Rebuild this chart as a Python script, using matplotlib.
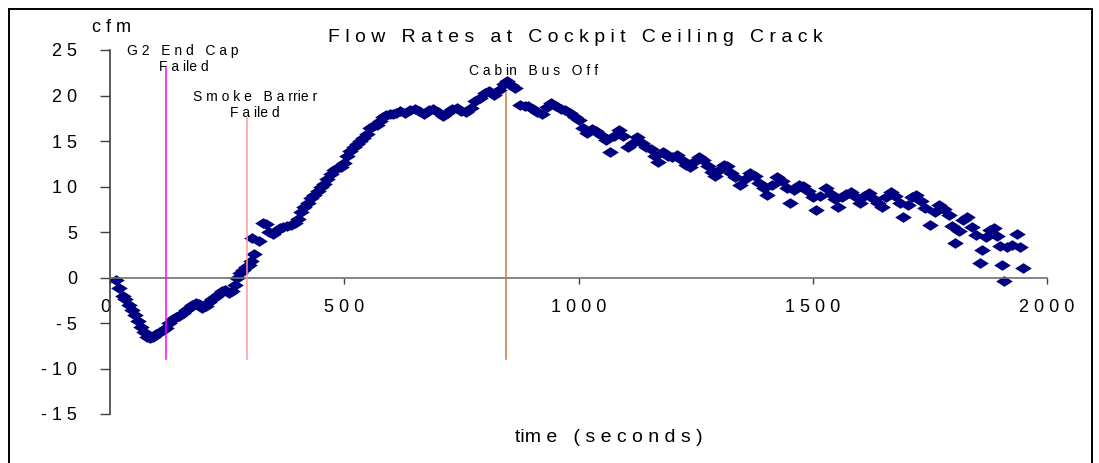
import matplotlib
matplotlib.use("Agg")
import matplotlib.pyplot as plt
from matplotlib.path import Path
from matplotlib.patches import Rectangle

plt.rcParams['font.family'] = ['Liberation Sans', 'DejaVu Sans']
plt.rcParams['axes.unicode_minus'] = False

# flow rate readings (time in s, flow in cfm)
time_s = [12, 20, 27, 33, 40, 47, 53, 60, 66, 72, 78, 85, 92, 99, 106, 113, 120, 127,
          134, 141, 148, 155, 162, 169, 176, 183, 190, 197, 204, 211, 218, 225, 232,
          239, 246, 253, 260, 266, 272, 278, 284, 290, 296, 302, 304, 308, 318, 326,
          333, 340, 347, 355, 362, 370, 378, 386, 394, 401, 408, 415, 422, 429, 436,
          443, 450, 457, 464, 471, 478, 485, 492, 499, 506, 513, 520, 527, 534, 541,
          548, 555, 562, 569, 576, 583, 590, 597, 604, 611, 620, 630, 640, 650, 660,
          670, 680, 690, 700, 710, 720, 730, 740, 750, 760, 770, 780, 790, 800, 810,
          820, 830, 840, 847, 855, 865, 875, 885, 893, 903, 912, 922, 932, 942, 952,
          962, 972, 982, 992, 1002, 1010, 1018, 1028, 1038, 1048, 1058, 1067, 1076,
          1086, 1096, 1106, 1116, 1125, 1135, 1145, 1155, 1163, 1170, 1180, 1190,
          1200, 1210, 1220, 1230, 1238, 1248, 1258, 1266, 1276, 1284, 1291, 1300,
          1310, 1318, 1326, 1335, 1345, 1355, 1366, 1376, 1386, 1395, 1402, 1412,
          1424, 1434, 1444, 1451, 1460, 1470, 1480, 1490, 1501, 1506, 1516, 1528,
          1540, 1548, 1554, 1562, 1572, 1582, 1592, 1600, 1610, 1620, 1630, 1640,
          1647, 1657, 1666, 1676, 1686, 1693, 1703, 1712, 1720, 1730, 1740, 1750,
          1760, 1770, 1780, 1790, 1797, 1804, 1812, 1820, 1830, 1840, 1848, 1856,
          1862, 1870, 1878, 1886, 1893, 1900, 1905, 1908, 1915, 1925, 1936, 1942, 1948]
flow_cfm = [-0.3, -1.1, -2.0, -2.4, -3.0, -3.6, -4.1, -4.8, -5.4, -6.0, -6.5, -6.7, -6.5,
            -6.2, -6.0, -5.8, -5.5, -5.0, -4.6, -4.3, -4.2, -3.9, -3.6, -3.3, -3.0, -2.8,
            -2.9, -3.3, -3.1, -2.7, -2.4, -2.1, -1.8, -1.5, -1.4, -1.7, -1.5, -0.8, -0.1,
            0.5, 0.8, 1.1, 1.4, 1.8, 4.3, 2.6, 4.0, 6.0, 5.9, 5.0, 4.8, 5.1, 5.4, 5.5,
            5.7, 5.8, 6.0, 6.4, 7.2, 7.7, 8.2, 8.7, 9.1, 9.5, 9.9, 10.3, 10.8, 11.4, 11.8,
            12.0, 12.1, 12.6, 13.3, 13.9, 14.3, 14.7, 15.0, 15.3, 15.8, 16.4, 16.7, 16.8,
            17.2, 17.6, 17.9, 18.0, 18.0, 18.1, 18.3, 18.1, 18.4, 18.5, 18.3, 18.0, 18.4,
            18.5, 18.2, 17.8, 18.1, 18.5, 18.6, 18.3, 18.2, 18.6, 19.4, 19.7, 20.3, 20.5,
            20.1, 20.6, 21.3, 21.6, 21.2, 20.8, 19.0, 18.8, 18.9, 18.5, 18.2, 18.0, 18.7,
            19.2, 18.8, 18.5, 18.4, 18.1, 17.6, 17.3, 16.4, 15.9, 16.3, 16.1, 15.7, 15.1,
            13.8, 15.5, 16.2, 15.6, 14.3, 14.8, 15.4, 14.8, 14.3, 14.1, 13.3, 12.7, 13.8,
            13.4, 13.2, 13.5, 12.9, 12.4, 12.1, 12.8, 13.2, 12.9, 12.2, 11.6, 11.1, 11.8,
            12.4, 12.2, 11.5, 11.0, 10.2, 10.8, 11.5, 11.1, 10.4, 9.8, 9.1, 10.2, 11.0,
            10.6, 9.8, 8.2, 9.6, 10.2, 10.1, 9.5, 8.8, 7.4, 9.0, 9.8, 9.2, 8.6, 7.8, 8.8,
            9.2, 9.4, 8.8, 8.2, 9.0, 9.3, 8.6, 8.2, 7.8, 8.8, 9.4, 9.0, 8.2, 6.7, 8.0,
            8.8, 9.1, 8.4, 7.6, 5.8, 7.2, 8.0, 7.5, 6.9, 5.7, 3.8, 5.1, 6.3, 6.6, 5.5,
            4.7, 1.6, 3.0, 4.4, 5.2, 5.4, 4.6, 3.5, 1.4, -0.4, 3.4, 3.6, 4.8, 3.3, 1.0]

# events marked with vertical lines
event_times = [120, 292, 845]
event_tops = [23.0, 17.5, 20.3]
event_bottom = -9.0
event_colors = ['#ff00ff', '#ff9999', '#c8784a']

y_ticks = [-15, -10, -5, 0, 5, 10, 15, 20, 25]
x_ticks = [0, 500, 1000, 1500, 2000]


def spaced(s, gap='   '):
    # mimic the wide character spacing of the original
    return gap.join(' '.join(w) for w in s.split(' '))


W, H = 1099, 463
fig = plt.figure(figsize=(W / 100, H / 100), dpi=100)
ax = fig.add_axes([110 / W, (H - 414) / H, 937 / W, 364 / H])

diamond = Path([(-1, 0), (0, 0.64), (1, 0), (0, -0.64), (-1, 0)],
               [Path.MOVETO, Path.LINETO, Path.LINETO, Path.LINETO, Path.CLOSEPOLY])
ax.plot(time_s, flow_cfm, linestyle='none', marker=diamond, markersize=12,
        color='#000080', markeredgewidth=0, zorder=2)

for t, top, c in zip(event_times, event_tops, event_colors):
    ax.plot([t, t], [event_bottom, top], color=c, linewidth=1.1, zorder=3)

ax.set_xlim(0, 2000)
ax.set_ylim(-15, 25)
ax.spines['top'].set_visible(False)
ax.spines['right'].set_visible(False)
ax.spines['bottom'].set_position(('data', 0))
ax.spines['bottom'].set_color('#707070')
ax.spines['left'].set_color('#404040')
ax.spines['bottom'].set_linewidth(1.2)
ax.spines['left'].set_linewidth(1.2)

ax.set_yticks(y_ticks)
ax.set_yticklabels([spaced(str(v)) for v in y_ticks])
ax.set_xticks(x_ticks)
ax.set_xticklabels([spaced(str(v)) for v in x_ticks])
ax.tick_params(axis='y', direction='out', length=7.5, width=1.0, color='#404040',
               pad=16, labelsize=13)
ax.tick_params(axis='x', direction='out', length=4.5, width=1.0, color='#404040',
               pad=11, labelsize=13)
ax.get_xticklabels()[0].set_horizontalalignment('right')


def ftext(x, y, s, size):
    fig.text(x / W, 1 - y / H, s, ha='center', va='center', fontsize=size)


ftext(575, 38, spaced('Flow Rates at Cockpit Ceiling Crack'), 14)
ftext(111, 27, 'c f m', 13)
ftext(609, 437, 'tim e   ( s e c o n d s )', 14)
ftext(183, 51, spaced('G2 End Cap'), 10)
ftext(184, 67, 'F a ile d', 10)
ftext(255, 97, 'S m o k e   B a rrie r', 10)
ftext(255, 113, 'F a ile d', 10)
ftext(534, 71, 'C a b in   B u s   O f f', 10)

fig.patches.append(Rectangle((9 / W, -0.05), (1092 - 9) / W, 1 - 9 / H + 0.05,
                             transform=fig.transFigure, fill=False,
                             edgecolor='black', linewidth=1.4))

fig.savefig('out.png', dpi=100)
